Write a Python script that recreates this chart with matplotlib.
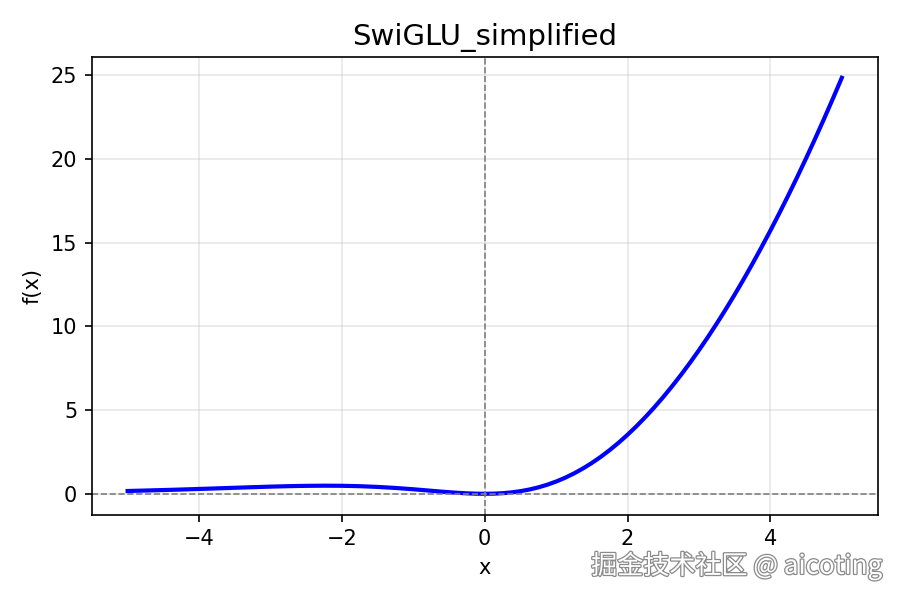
import numpy as np
import matplotlib.pyplot as plt
import matplotlib.patheffects as pe

# values
x = [-5.0, -4.75, -4.5, -4.25, -4.0, -3.75, -3.5, -3.25, -3.0, -2.75,
     -2.5, -2.25, -2.0, -1.75, -1.5, -1.25, -1.0, -0.875, -0.75, -0.625,
     -0.5, -0.375, -0.25, -0.125, 0.0, 0.125, 0.25, 0.375, 0.5, 0.625,
     0.75, 0.875, 1.0, 1.125, 1.25, 1.375, 1.5, 1.625, 1.75, 1.875,
     2.0, 2.125, 2.25, 2.375, 2.5, 2.625, 2.75, 2.875, 3.0, 3.125,
     3.25, 3.375, 3.5, 3.625, 3.75, 3.875, 4.0, 4.125, 4.25, 4.375,
     4.5, 4.625, 4.75, 4.875, 5.0]
y = [0.167, 0.194, 0.223, 0.254, 0.288, 0.323, 0.359, 0.394, 0.427, 0.454,
     0.474, 0.483, 0.477, 0.453, 0.410, 0.348, 0.269, 0.225, 0.181, 0.136,
     0.094, 0.057, 0.027, 0.007, 0.0, 0.008, 0.035, 0.083, 0.156, 0.254,
     0.382, 0.540, 0.731, 0.955, 1.215, 1.509, 1.840, 2.206, 2.609, 3.048,
     3.523, 4.034, 4.580, 5.161, 5.776, 6.426, 7.108, 7.824, 8.573, 9.355,
     10.168, 11.014, 11.891, 12.800, 13.739, 14.711, 15.712, 16.745, 17.808, 18.903,
     20.028, 21.183, 22.369, 23.586, 24.833]

fig, ax = plt.subplots(figsize=(6, 4), dpi=150)
ax.plot(x, y, color='blue', linewidth=2)
ax.axhline(0, color='gray', linestyle='--', linewidth=0.8)
ax.axvline(0, color='gray', linestyle='--', linewidth=0.8)
ax.grid(True, alpha=0.3)
ax.set_title('SwiGLU_simplified', fontsize=14)
ax.set_xlabel('x')
ax.set_ylabel('f(x)')
plt.tight_layout()

fig.text(0.98, 0.057, '掘金技术社区 @ aicoting', ha='right', va='center',
         fontsize=12.5, color='white', family=['Noto Sans CJK SC', 'DejaVu Sans'],
         path_effects=[pe.withStroke(linewidth=1.2, foreground='#8a8a8a')])

plt.savefig('out.png')
